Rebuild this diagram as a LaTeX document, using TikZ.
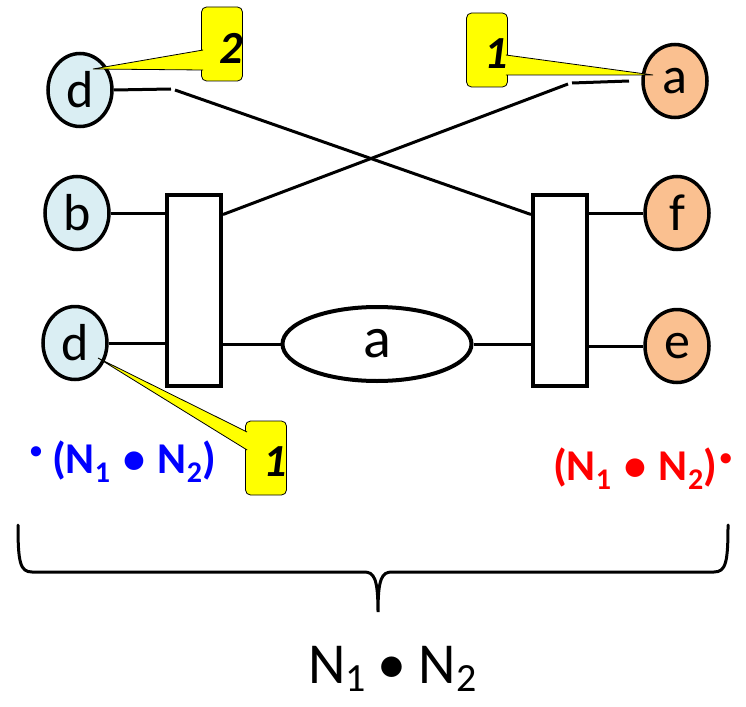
\documentclass[tikz,border=0pt]{standalone}
\usepackage{fontspec}
\setmainfont{Carlito}
\usetikzlibrary{shapes.geometric,positioning}
\definecolor{placeblue}{HTML}{DAEEF3}
\definecolor{placeorange}{HTML}{FAC090}
\definecolor{tagyellow}{HTML}{FFFF00}
\tikzset{
  place/.style={ellipse,draw,line width=3.5pt,minimum width=64pt,minimum height=73pt,
    inner sep=0pt,font=\fontsize{52}{52}\selectfont},
  lplace/.style={place,fill=placeblue},
  rplace/.style={place,fill=placeorange},
  trans/.style={rectangle,draw,line width=4pt,fill=white,minimum width=54pt,
    minimum height=191pt,inner sep=0pt},
  tag/.style={rectangle,rounded corners=5pt,draw,line width=0.8pt,fill=tagyellow,
    minimum width=41pt,minimum height=74pt,inner sep=0pt},
  tagnum/.style={font=\fontsize{46}{46}\selectfont\bfseries\itshape,inner sep=0pt,anchor=east},
  arc/.style={line width=3pt},
  pointer/.style={fill=tagyellow,draw=black,line width=0.8pt},
  setlabel/.style={font=\fontsize{44}{44}\selectfont\bfseries,anchor=base west,inner sep=0pt},
}
\newcommand{\smalldot}{{\fontsize{24}{24}\selectfont\raisebox{15pt}{•}}}
\newcommand{\idx}[1]{\raisebox{-0.22em}{\fontsize{30}{30}\selectfont #1}}

\begin{document}
\begin{tikzpicture}[x=1pt,y=-1pt]
  \useasboundingbox (0,0) rectangle (746,706);
  % places of N1 and N2
  \node[lplace] (d1) at (80,90) {d};
  \node[lplace] (b) at (77,213) {b};
  \node[lplace] (d2) at (75,343) {d};
  \node[rplace] (a) at (675,81) {a};
  \node[rplace] (f) at (677,213) {f};
  \node[rplace] (e) at (677,346) {e};
  % transitions and shared place
  \node[trans] (t1) at (194,290) {};
  \node[trans] (t2) at (560,290) {};
  \node[place,minimum width=189pt,minimum height=74pt,line width=4pt,
    font=\fontsize{58}{58}\selectfont] (pa) at (377,344) {a};
  % arcs
  \draw[arc] (b.east) -- (b.east -| t1.west);
  \draw[arc] (d2.east) -- (d2.east -| t1.west);
  \draw[arc] (t1.east |- pa.west) -- (pa.west);
  \draw[arc] (pa.east) -- (pa.east -| t2.west);
  \draw[arc] (t2.east |- f.west) -- (f.west);
  \draw[arc] (t2.east |- e.west) -- (e.west);
  % crossing arcs with jumps
  \coordinate (jl1) at (171,89);
  \coordinate (jl2) at (175,90);
  \coordinate (jr1) at (568,84);
  \coordinate (jr2) at (572,83);
  \coordinate (ja) at (629,81);
  \draw[arc] (d1.east) -- (jl1);
  \draw[arc] (jl2) -- ([yshift=-22pt]t2.north west);
  \draw[arc] ([yshift=-22pt]t1.north east) -- (jr1);
  \draw[arc] (jr2) -- (ja);
  % callouts
  \node[tag] (c2) at (222,44) {};
  \filldraw[pointer] ([shift={(2,6)}]c2.west) -- ([shift={(13,-21)}]d1.center)
    -- ([shift={(2,26)}]c2.west);
  \node[tagnum] (c2n) at ([yshift=-4pt]c2.east) {2};
  \node[tag] (c1) at (487,50) {};
  \filldraw[pointer] ([shift={(-2,5)}]c1.east) -- ([shift={(-22,-6)}]a.center)
    -- ([shift={(-2,25)}]c1.east);
  \node[tagnum] (c1n) at ([yshift=-4pt]c1.east) {1};
  \node[tag] (c3) at (266,458) {};
  \filldraw[pointer] ([shift={(2,-26)}]c3.west) -- ([shift={(23,15)}]d2.center)
    -- ([shift={(2,-8)}]c3.west);
  \node[tagnum] (c3n) at ([yshift=-4pt]c3.east) {1};
  % pre- and postsets
  \node[setlabel,text=blue] (pre) at (30,473)
    {\smalldot\hspace{10pt}(N\idx{1}\hspace{13pt}•\hspace{13pt}N\idx{2})};
  \node[setlabel,text=red] (post) at (553,480)
    {(N\idx{1}\hspace{13pt}•\hspace{13pt}N\idx{2})\hspace{3pt}\smalldot};
  % brace
  \coordinate (tip) at (378,612);
  \draw[arc,line cap=round] (18,525) .. controls (18,562) and (20,572) .. (32,572) -- (364,572)
    .. controls (374,572) and (378,578) .. (tip)
    .. controls (378,578) and (382,572) .. (392,572) -- (714,572)
    .. controls (726,572) and (728,562) .. (728,525);
  \node[font=\fontsize{58}{58}\selectfont,anchor=base west,inner sep=0pt]
    (prod) at (308,683) {N{\fontsize{40}{40}\selectfont\raisebox{-0.22em}{1}}\hspace{12pt}•\hspace{12pt}N{\fontsize{40}{40}\selectfont\raisebox{-0.22em}{2}}};
\end{tikzpicture}
\end{document}
